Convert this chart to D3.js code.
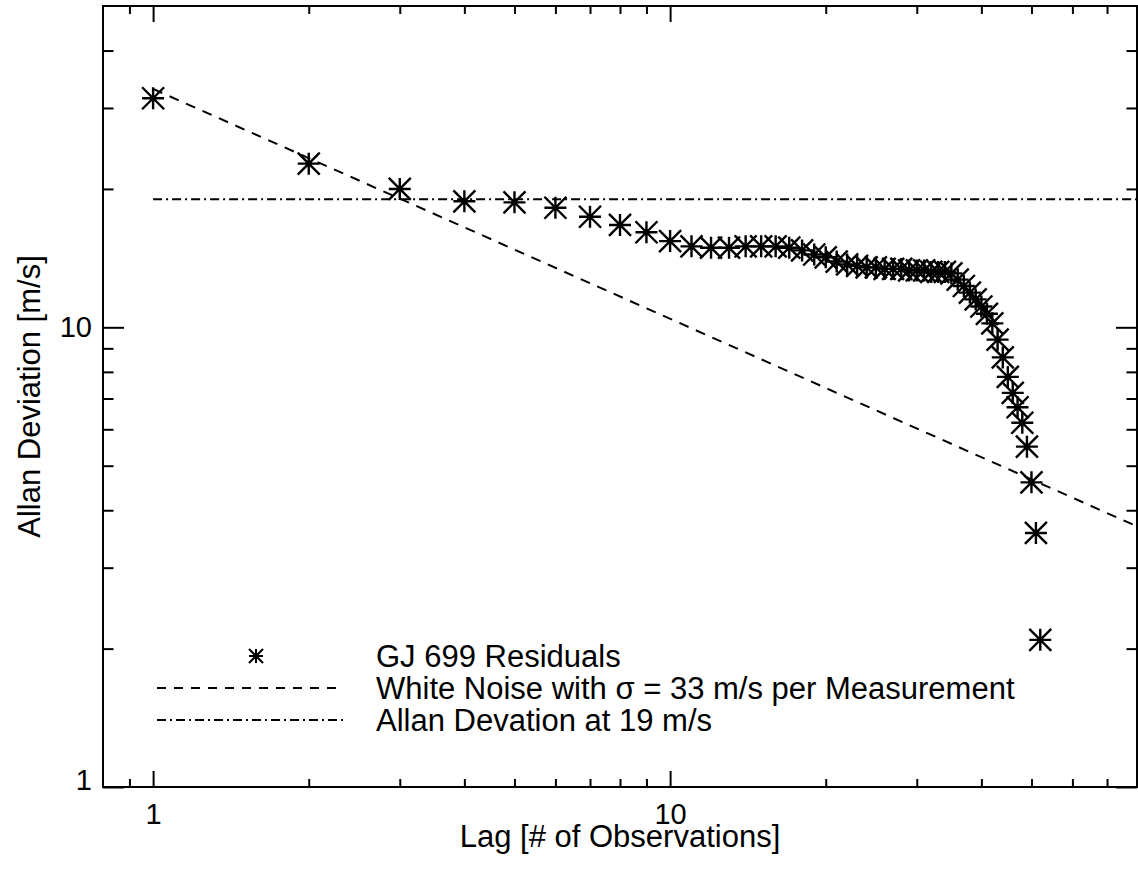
<!DOCTYPE html>
<html>
<head>
<meta charset="utf-8">
<script src="https://cdn.jsdelivr.net/npm/d3@7"></script>
<style>
  html, body { margin: 0; padding: 0; background: #fff; }
  svg { display: block; font-family: "Liberation Sans", Arial, Helvetica, sans-serif; }
</style>
</head>
<body>
<svg id="chart" width="1138" height="871"></svg>
<script>
// ---- data ----
const lags = [1,2,3,4,5,6,7,8,9,10,11,12,13,14,15,16,17,18,19,20,21,22,23,24,25,26,27,28,29,30,31,32,33,34,35,36,37,38,39,40,41,42,43,44,45,46,47,48,49,50,51,52];
const allanDev = [31.5,22.7,20.0,18.8,18.7,18.2,17.4,16.7,16.1,15.4,15.0,14.9,14.9,15.0,15.0,15.0,14.9,14.7,14.4,14.2,13.9,13.7,13.6,13.5,13.5,13.4,13.4,13.4,13.3,13.3,13.3,13.2,13.2,13.2,13.1,12.7,12.3,11.9,11.5,11.1,10.7,10.2,9.4,8.6,7.8,7.2,6.7,6.2,5.5,4.6,3.57,2.09];
const whiteNoiseSigma = 33;
const allanLevel = 19;
const xDomain = [0.8, 80];
const yDomain = [1, 50];
const xMajorTicks = [1, 10];
const xMinorTicks = [0.9, 2, 3, 4, 5, 6, 7, 8, 9, 20, 30, 40, 50, 60, 70];
const yMajorTicks = [1, 10];
const yMinorTicks = [2, 3, 4, 5, 6, 7, 8, 9, 20, 30, 40];
const legendLabels = ["GJ 699 Residuals", "White Noise with \u03C3 = 33 m/s per Measurement", "Allan Devation at 19 m/s"];
const xTitle = "Lag [# of Observations]";
const yTitle = "Allan Deviation [m/s]";

// ---- layout ----
const L = 103, R = 1137, T = 6, B = 787;
const svg = d3.select("#chart");
const x = d3.scaleLog().domain(xDomain).range([L, R]);
const y = d3.scaleLog().domain(yDomain).range([B, T]);

const majX = 16, minX = 8, majY = 21, minY = 10.5;

svg.append("defs").append("clipPath").attr("id", "clip")
  .append("rect").attr("x", L).attr("y", T).attr("width", R - L).attr("height", B - T);

function styleAxis(g) {
  g.select(".domain").remove();
  g.selectAll(".tick line").attr("stroke", "#000").attr("stroke-width", 2);
  g.selectAll("text").attr("fill", "#000").attr("font-size", 29)
    .attr("font-family", '"Liberation Sans", Arial, sans-serif');
}

// bottom
svg.append("g").attr("transform", `translate(0,${B})`)
  .call(d3.axisBottom(x).tickValues(xMajorTicks).tickFormat(d3.format("d")).tickSizeInner(-majX).tickSizeOuter(0).tickPadding(16))
  .call(styleAxis);
svg.append("g").attr("transform", `translate(0,${B})`)
  .call(d3.axisBottom(x).tickValues(xMinorTicks).tickFormat("").tickSizeInner(-minX).tickSizeOuter(0))
  .call(styleAxis);
// top
svg.append("g").attr("transform", `translate(0,${T})`)
  .call(d3.axisTop(x).tickValues(xMajorTicks).tickFormat("").tickSizeInner(-majX).tickSizeOuter(0))
  .call(styleAxis);
svg.append("g").attr("transform", `translate(0,${T})`)
  .call(d3.axisTop(x).tickValues(xMinorTicks).tickFormat("").tickSizeInner(-minX).tickSizeOuter(0))
  .call(styleAxis);
// left
const yLeft = svg.append("g").attr("transform", `translate(${L},0)`)
  .call(d3.axisLeft(y).tickValues(yMajorTicks).tickFormat(d3.format("d")).tickSizeInner(-majY).tickSizeOuter(0).tickPadding(11))
  .call(styleAxis);
// lowest label sits slightly above the axis corner, as in the reference
yLeft.selectAll(".tick text").filter(d => d === yDomain[0]).attr("dy", "0.1em");
svg.append("g").attr("transform", `translate(${L},0)`)
  .call(d3.axisLeft(y).tickValues(yMinorTicks).tickFormat("").tickSizeInner(-minY).tickSizeOuter(0))
  .call(styleAxis);
// right
svg.append("g").attr("transform", `translate(${R},0)`)
  .call(d3.axisRight(y).tickValues(yMajorTicks).tickFormat("").tickSizeInner(-majY).tickSizeOuter(0))
  .call(styleAxis);
svg.append("g").attr("transform", `translate(${R},0)`)
  .call(d3.axisRight(y).tickValues(yMinorTicks).tickFormat("").tickSizeInner(-minY).tickSizeOuter(0))
  .call(styleAxis);

// frame
svg.append("rect").attr("x", L).attr("y", T).attr("width", R - L).attr("height", B - T)
  .attr("fill", "none").attr("stroke", "#000").attr("stroke-width", 2);

// axis titles
svg.append("text").attr("x", (L + R) / 2).attr("y", 847).attr("text-anchor", "middle")
  .attr("font-size", 31).attr("fill", "#000").text(xTitle);
svg.append("text").attr("transform", `translate(40,${(T + B) / 2}) rotate(-90)`).attr("text-anchor", "middle")
  .attr("font-size", 31).attr("fill", "#000").text(yTitle);

const plot = svg.append("g").attr("clip-path", "url(#clip)");

// white noise line
const wnXs = [1, xDomain[1]];
const line = d3.line().x(d => x(d[0])).y(d => y(d[1]));
plot.append("path")
  .attr("d", line(wnXs.map(v => [v, whiteNoiseSigma / Math.sqrt(v)])))
  .attr("fill", "none").attr("stroke", "#000").attr("stroke-width", 2).attr("stroke-dasharray", "10,8");
// Allan level line
plot.append("path")
  .attr("d", line([[1, allanLevel], [xDomain[1], allanLevel]]))
  .attr("fill", "none").attr("stroke", "#000").attr("stroke-width", 2).attr("stroke-dasharray", "9,4,2,4");

function asterisk(r) {
  return `M${-r},0L${r},0M0,${-r}L0,${r}M${-r},${-r}L${r},${r}M${-r},${r}L${r},${-r}`;
}
plot.selectAll("path.pt").data(lags.map((l, i) => [l, allanDev[i]])).enter()
  .append("path").attr("class", "pt")
  .attr("transform", d => `translate(${x(d[0])},${y(d[1])})`)
  .attr("d", asterisk(11)).attr("fill", "none").attr("stroke", "#000").attr("stroke-width", 2.4);

// legend
const lg = svg.append("g");
const lx0 = 157, lx1 = 343, ltx = 376, ly = [656, 688, 720];
lg.append("path").attr("transform", `translate(256,${ly[0]})`)
  .attr("d", asterisk(7)).attr("fill", "none").attr("stroke", "#000").attr("stroke-width", 2);
lg.append("line").attr("x1", lx0).attr("x2", lx1).attr("y1", ly[1]).attr("y2", ly[1])
  .attr("stroke", "#000").attr("stroke-width", 2).attr("stroke-dasharray", "9,8");
lg.append("line").attr("x1", lx0).attr("x2", lx1).attr("y1", ly[2]).attr("y2", ly[2])
  .attr("stroke", "#000").attr("stroke-width", 2).attr("stroke-dasharray", "9,4,2,4");
legendLabels.forEach((t, i) => {
  lg.append("text").attr("x", ltx).attr("y", ly[i] + 11).attr("font-size", 31).attr("fill", "#000").text(t);
});
</script>
</body>
</html>
